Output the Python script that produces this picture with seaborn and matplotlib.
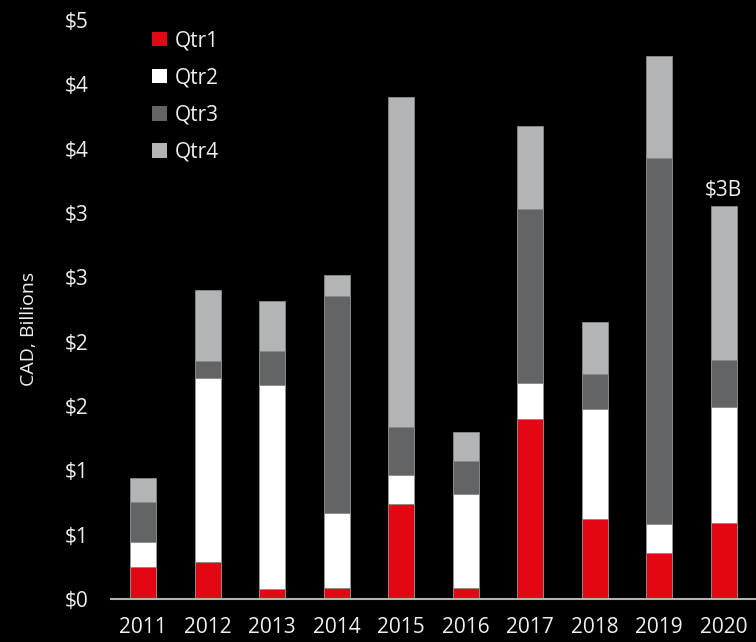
import matplotlib
matplotlib.use("Agg")
import matplotlib.pyplot as plt
import seaborn as sns
import pandas as pd
import numpy as np
from matplotlib.patches import Patch
from matplotlib.ticker import FuncFormatter

# Data (CAD billions per quarter)
years = ['2011', '2012', '2013', '2014', '2015', '2016', '2017', '2018', '2019', '2020']
qtr1 = [0.25, 0.29, 0.08, 0.085, 0.74, 0.085, 1.40, 0.62, 0.36, 0.59]
qtr2 = [0.19, 1.43, 1.585, 0.58, 0.22, 0.73, 0.28, 0.855, 0.22, 0.90]
qtr3 = [0.31, 0.13, 0.26, 1.69, 0.38, 0.26, 1.35, 0.27, 2.85, 0.365]
qtr4 = [0.19, 0.55, 0.39, 0.16, 2.56, 0.22, 0.645, 0.41, 0.79, 1.20]
quarters = ['Qtr1', 'Qtr2', 'Qtr3', 'Qtr4']
colors = ['#e30613', '#ffffff', '#636466', '#b3b4b6']
total_label = '$3B'

sns.set_style("dark")
plt.rcParams['font.family'] = ['Open Sans', 'DejaVu Sans']
txt = '#f0f0f0'

df = pd.DataFrame({'Year': years, 'Qtr1': qtr1, 'Qtr2': qtr2, 'Qtr3': qtr3, 'Qtr4': qtr4})
cum = df[quarters].cumsum(axis=1)
cum['Year'] = df['Year']

fig = plt.figure(figsize=(7.56, 6.42), dpi=100, facecolor='black')
ax = fig.add_axes([0.1468, 0.067, 0.8532, 0.9018])
ax.set_facecolor('black')

# draw cumulative bars from top quarter down so they look stacked
for q, c in reversed(list(zip(quarters, colors))):
    sns.barplot(data=cum, x='Year', y=q, color=c, width=0.4, ax=ax,
                edgecolor='#8a8a8a', linewidth=0.6, saturation=1)

ax.set_xlim(-0.5, 9.5)
ax.set_ylim(0, 4.5)
ax.set_yticks(np.arange(0, 5, 0.5))
ax.yaxis.set_major_formatter(FuncFormatter(lambda v, p: f"${int(v + 0.5 + 1e-9)}"))
ax.tick_params(axis='y', length=0, pad=16, labelsize=15, labelcolor=txt)
ax.tick_params(axis='x', length=0, pad=13, labelsize=15, labelcolor=txt)
ax.grid(False)
ax.set_xlabel('')
ax.set_ylabel('CAD, Billions', fontsize=14, color=txt)
ax.yaxis.set_label_coords(-0.113, 0.466)
for s in ['left', 'top', 'right']:
    ax.spines[s].set_visible(False)
ax.spines['bottom'].set_color('#b3b3b3')
ax.spines['bottom'].set_linewidth(1.5)

ax.text(9, cum['Qtr4'].iloc[-1] + 0.04, total_label, ha='center', va='bottom',
        fontsize=15, color=txt)

handles = [Patch(facecolor=c, edgecolor='none', label=q) for q, c in zip(quarters, colors)]
leg = ax.legend(handles=handles, loc='upper left', bbox_to_anchor=(0.035, 1.015),
                frameon=False, fontsize=15, handlelength=0.7, handleheight=0.7,
                handletextpad=0.4, labelspacing=0.78)
for t in leg.get_texts():
    t.set_color(txt)

plt.savefig('out.png', dpi=100, facecolor='black')
